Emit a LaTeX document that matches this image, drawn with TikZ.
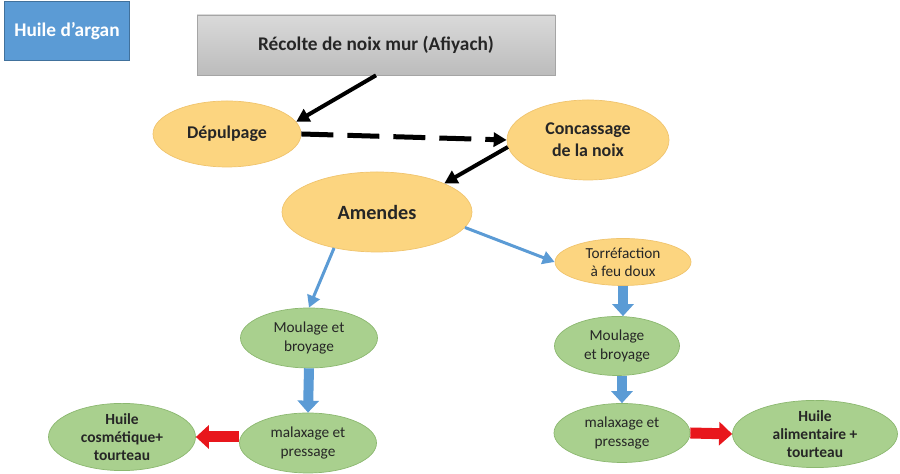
\documentclass[tikz,border=0pt]{standalone}
\usepackage{fontspec}
\setmainfont{Carlito}
\usetikzlibrary{shapes.geometric, arrows.meta}

\definecolor{titleblue}{RGB}{91,155,213}
\definecolor{titleedge}{RGB}{65,113,156}
\definecolor{stagefill}{RGB}{252,213,128}
\definecolor{stageedge}{RGB}{240,196,110}
\definecolor{prodfill}{RGB}{169,208,142}
\definecolor{prodedge}{RGB}{140,184,112}
\definecolor{greytop}{RGB}{218,218,218}
\definecolor{greybot}{RGB}{188,188,188}
\definecolor{greyedge}{RGB}{165,165,165}
\definecolor{textdark}{RGB}{38,38,38}
\definecolor{oilred}{RGB}{232,22,28}

\begin{document}
\begin{tikzpicture} [scale = 1,
  dims/.style 2 args = {minimum width = #1cm, minimum height = #2cm},
  stage/.style = {ellipse, draw = stageedge, fill = stagefill, inner sep = 0pt, align = center, text = textdark},
  product/.style = {ellipse, draw = prodedge, fill = prodfill, inner sep = 0pt, align = center, text = textdark},
  big/.style = {font = \fontsize{11}{13.4}\selectfont\bfseries},
  mid/.style = {font = \fontsize{10.2}{12.4}\selectfont\bfseries},
  small/.style = {font = \fontsize{8.7}{10.4}\selectfont},
  smallbold/.style = {font = \fontsize{8.8}{10.4}\selectfont\bfseries},
  flow/.style = {line width = 0.08cm, -{Triangle[width = 0.28cm, length = 0.26cm]}},
  branch/.style = {line width = 0.06cm, titleblue, -{Triangle[width = 0.26cm, length = 0.24cm]}},
  fat/.style = {line width = 0.2cm, titleblue, -{Triangle[width = 0.42cm, length = 0.24cm]}},
  outflow/.style = {line width = 0.22cm, oilred, -{Triangle[width = 0.46cm, length = 0.26cm]}}
]
\useasboundingbox (0.0, 0.0) rectangle (18.0, 9.48);

\node[draw = titleedge, fill = titleblue, text = white, big, dims = {2.50}{1.18}] (title) at (1.34, 8.86){Huile d’argan};
\node[draw = greyedge, top color = greytop, bottom color = greybot, text = textdark, big, dims = {7.16}{1.20}] (harvest) at (7.52, 8.58){Récolte de noix mur (Afiyach)};

\node[stage, mid, dims = {2.96}{1.32}] (depulp) at (4.54, 6.80){Dépulpage};
\node[stage, mid, dims = {3.24}{1.60}] (crack) at (11.76, 6.68){Concassage\\de la noix};
\node[stage, font = \fontsize{11.5}{13.8}\selectfont\bfseries, dims = {3.80}{1.60}] (kernels) at (7.54, 5.24){Amendes};
\node[stage, small, dims = {2.72}{0.94}] (roast) at (12.46, 4.24){Torréfaction\\à feu doux};

\node[product, small, dims = {2.74}{1.20}] (mouldL) at (6.18, 2.72){Moulage et\\broyage};
\node[product, small, dims = {2.74}{1.20}] (pressL) at (6.16, 0.62){malaxage et\\pressage};
\node[product, smallbold, dims = {2.94}{1.18}] (oilC) at (2.44, 0.74){Huile\\cosmétique+\\tourteau};

\node[product, small, dims = {2.50}{1.18}] (mouldR) at (12.34, 2.56){Moulage\\et broyage};
\node[product, small, dims = {2.72}{1.18}] (pressR) at (12.44, 0.82){malaxage et\\pressage};
\node[product, smallbold, dims = {3.30}{1.16}] (oilA) at (16.30, 0.80){Huile\\alimentaire +\\tourteau};

% black path of the nut
\draw[flow] (harvest.south) -- (depulp.10);
\draw[flow, dash pattern = on 0.64cm off 0.28cm, line width = 0.1cm] (depulp.east) -- (crack.west);
\draw[flow] (crack.185) -- (kernels.23);

% two ways from the kernels
\draw[branch] (kernels.220) -- (mouldL.north);
\draw[branch] (kernels.-10) -- (roast.west);

\draw[fat] (mouldL.south) -- (pressL.north);
\draw[fat] (roast.south) -- (roast.south |- mouldR.north);
\draw[fat] (pressR.north |- mouldR.south) -- (pressR.north);

\draw[outflow] (oilC.east -| pressL.west) -- (oilC.east);
\draw[outflow] (pressR.east) -- (oilA.west);
\end{tikzpicture}
\end{document}
